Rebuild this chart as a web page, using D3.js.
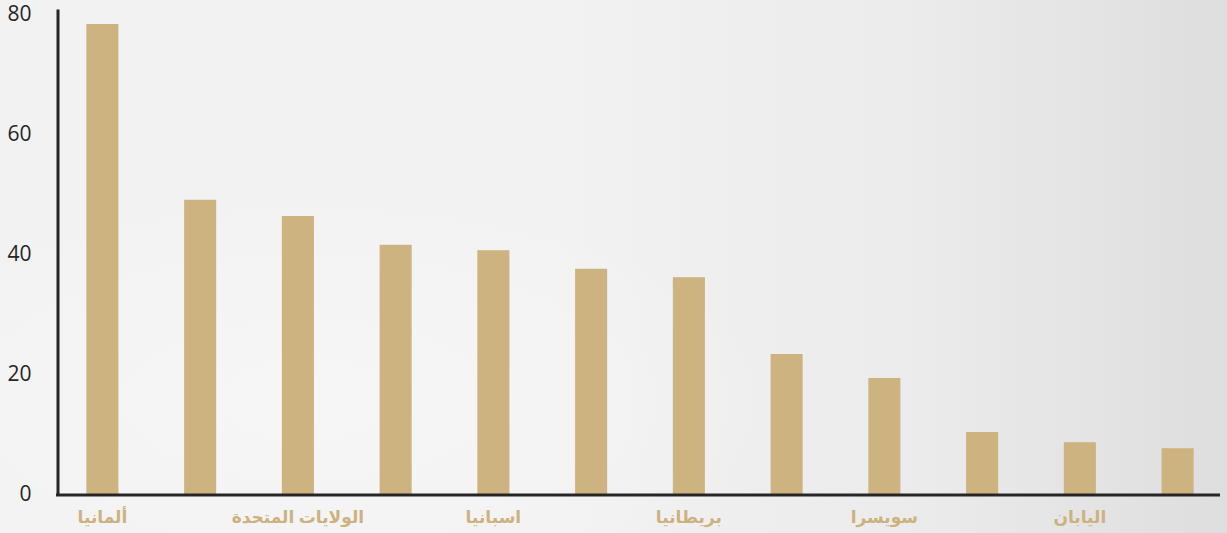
<!DOCTYPE html>
<html>
<head>
<meta charset="utf-8">
<script src="https://cdn.jsdelivr.net/npm/d3@7"></script>
<style>
  html, body { margin: 0; padding: 0; }
  body { width: 1227px; height: 533px; overflow: hidden; }
</style>
</head>
<body>
<svg id="chart" width="1227" height="533"></svg>
<script>
// Data (only every other category label is shown there)
const categories = ["ألمانيا", "", "الولايات المتحدة", "", "اسبانيا", "", "بريطانيا", "", "سويسرا", "", "اليابان", ""];
const values = [78.5, 49.2, 46.5, 41.7, 40.8, 37.7, 36.3, 23.5, 19.5, 10.5, 8.8, 7.8];
const yTicks = [0, 20, 40, 60, 80];
const yMax = 81;

const W = 1227, H = 533;
const svg = d3.select("#chart");

// Background gradient
const defs = svg.append("defs");
const lg = defs.append("linearGradient").attr("id", "bg").attr("x1", "0").attr("y1", "0").attr("x2", "1").attr("y2", "0");
lg.append("stop").attr("offset", "0%").attr("stop-color", "#f2f2f2");
lg.append("stop").attr("offset", "45%").attr("stop-color", "#f2f2f2");
lg.append("stop").attr("offset", "75%").attr("stop-color", "#ebebeb");
lg.append("stop").attr("offset", "100%").attr("stop-color", "#dedede");
const rg = defs.append("radialGradient").attr("id", "glow")
  .attr("cx", "25%").attr("cy", "75%").attr("r", "40%");
rg.append("stop").attr("offset", "0%").attr("stop-color", "#ffffff").attr("stop-opacity", 0.35);
rg.append("stop").attr("offset", "100%").attr("stop-color", "#ffffff").attr("stop-opacity", 0);
svg.append("rect").attr("width", W).attr("height", H).attr("fill", "url(#bg)");
svg.append("rect").attr("width", W).attr("height", H).attr("fill", "url(#glow)");

const axisX = 57.5, x0 = 59, x1 = 1221, xEnd = 1220, yBase = 495, yTop = 9;

const x = d3.scaleBand()
  .domain(d3.range(categories.length))
  .range([x0, x1])
  .paddingInner(0.672)
  .paddingOuter(0.28);

const y = d3.scaleLinear().domain([0, yMax]).range([yBase, yTop]);

// Bars
svg.append("g").selectAll("rect")
  .data(values)
  .join("rect")
  .attr("x", (d, i) => x(i))
  .attr("y", d => y(d))
  .attr("width", x.bandwidth())
  .attr("height", d => y(0) - y(d))
  .attr("fill", "#cdb380");

// Y axis
const yAxis = d3.axisLeft(y).tickValues(yTicks).tickSize(0).tickPadding(26);
const gy = svg.append("g").attr("transform", `translate(${axisX},0)`).call(yAxis);
gy.select(".domain").attr("stroke", "#262626").attr("stroke-width", 3);
gy.selectAll(".tick text")
  .attr("fill", "#262626")
  .attr("font-family", "'Open Sans', sans-serif")
  .attr("font-size", 21)
  .attr("dy", "0.25em");

// X axis
const xAxis = d3.axisBottom(x).tickSize(0).tickPadding(16)
  .tickFormat(i => categories[i]);
const gx = svg.append("g").attr("transform", `translate(0,${yBase})`).call(xAxis);
gx.select(".domain").attr("stroke", "#262626").attr("stroke-width", 3)
  .attr("d", `M${axisX - 1.5},0H${xEnd}`);
gx.selectAll(".tick text")
  .attr("fill", "#cdb27f")
  .attr("font-family", "'Noto Sans', 'DejaVu Sans', sans-serif")
  .attr("font-weight", "bold")
  .attr("font-size", 17)
  .attr("direction", "rtl")
  .attr("text-anchor", "middle");
</script>
</body>
</html>
